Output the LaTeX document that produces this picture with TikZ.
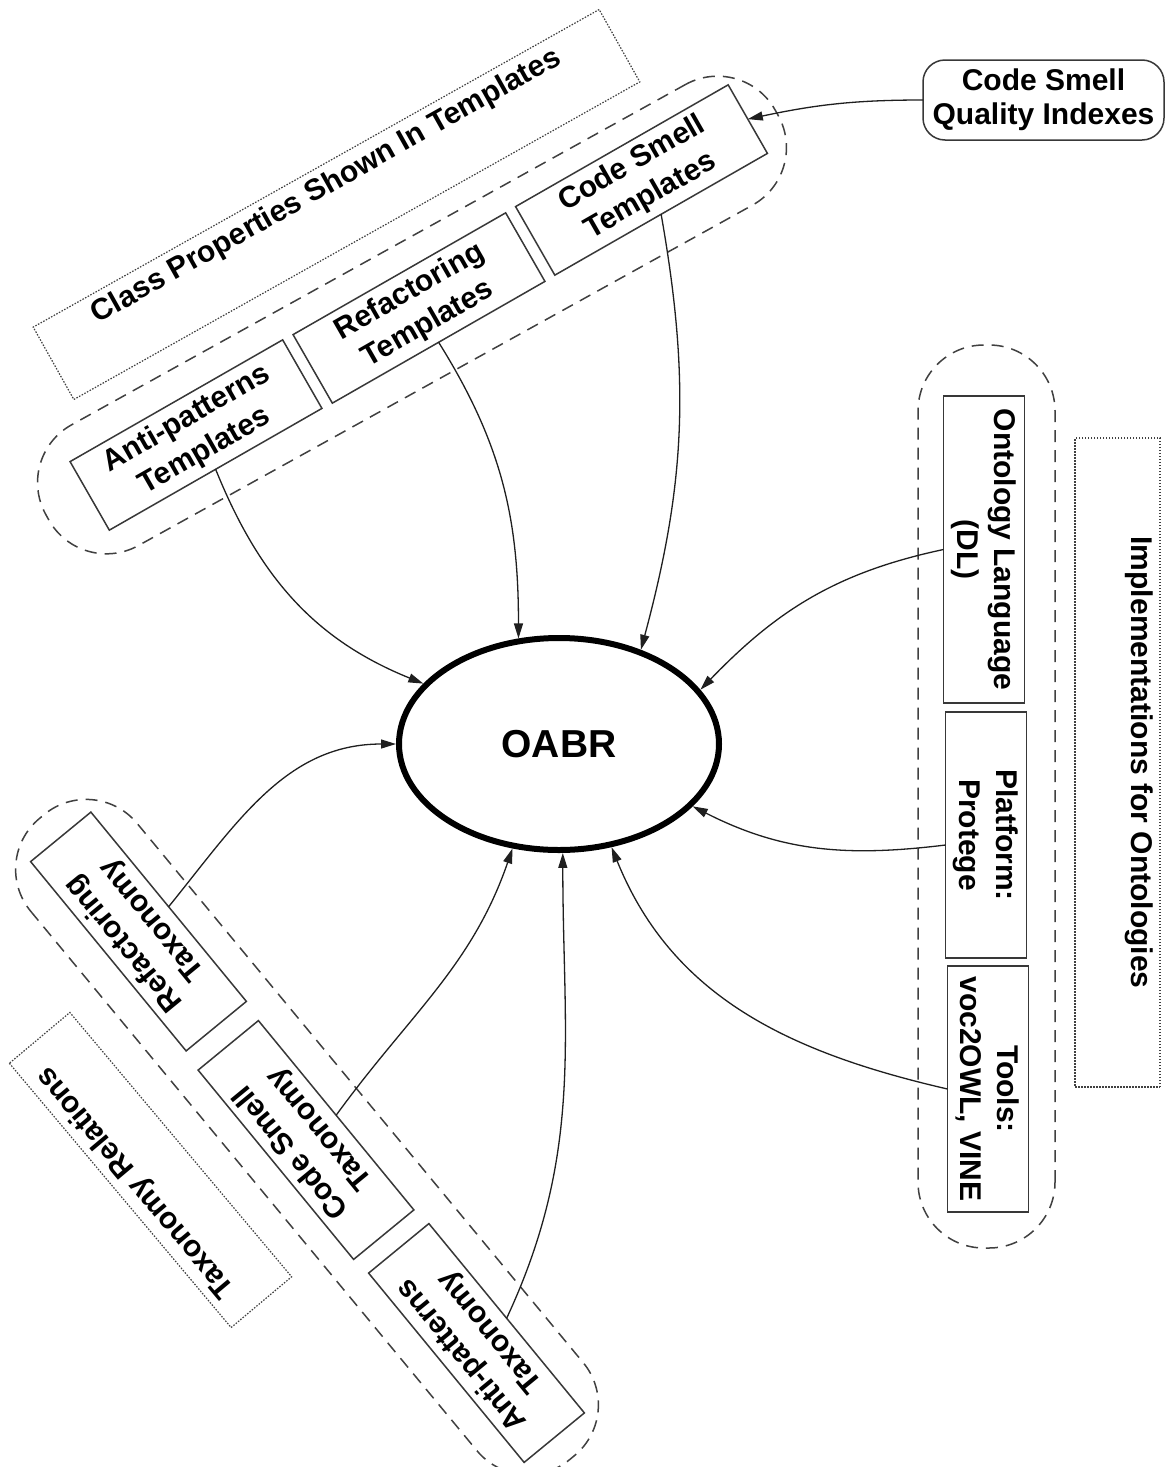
\documentclass[tikz,border=0pt]{standalone}
\usepackage{fontspec}
\setmainfont{Liberation Sans}
\usetikzlibrary{shapes.geometric,arrows.meta}
\definecolor{boxgray}{gray}{0.22}
\definecolor{dashgray}{gray}{0.25}
\definecolor{dotgray}{gray}{0.25}
\definecolor{linegray}{gray}{0.12}
\begin{document}
\begin{tikzpicture}[x=1pt,y=1pt,
  every node/.style={font=\fontsize{30}{37}\selectfont\bfseries, inner sep=0pt, outer sep=0pt},
  itembox/.style={draw=boxgray, line width=1.5pt, align=center, minimum height=80, fill=white},
  groupbox/.style={draw=dashgray, line width=1.5pt, dash pattern=on 12pt off 8pt, rounded corners=66pt, minimum height=138},
  labelbox/.style={draw=dotgray, line width=1.2pt, dash pattern=on 1.5pt off 1.5pt, minimum height=83},
  labeltext/.style={anchor=north, inner sep=7pt},
  conn/.style={draw=linegray, line width=1.3pt, -{Triangle[length=15pt,width=9pt]}},
]
\fill[white] (0,0) rectangle (1167,-1467);
\useasboundingbox (0,0) rectangle (1167,-1467);

% label boxes (dotted)
\node[labelbox, rotate=29.3, minimum width=649] (cp) at (336.5,-204.5) {};
\node[labeltext, rotate=29.3] (cpt) at (cp.north) {Class Properties Shown In Templates};

\node[labelbox, rotate=-90, minimum width=649, minimum height=85] (impl) at (1117.5,-762.5) {};
\node[labeltext, rotate=-90] (implt) at (impl.north) {Implementations for Ontologies};

\node[labelbox, rotate=130, minimum width=345, minimum height=79] (tr) at (150.5,-1170) {};
\node[labeltext, rotate=130] (trt) at (tr.north) {Taxonomy Relations};

% dashed groups
\node[groupbox, rotate=29, minimum width=834] (tg) at (412,-315) {};
\node[groupbox, rotate=129.6, minimum width=832] (xg) at (307,-1137) {};
\node[groupbox, rotate=-90, minimum width=903, minimum height=137] (og) at (986.5,-796.5) {};

% template boxes
\node[itembox, rotate=29.8, minimum width=245, minimum height=79] (at) at (196,-435) {Anti-patterns\\Templates};
\node[itembox, rotate=29.8, minimum width=245, minimum height=79] (rt) at (419,-308) {Refactoring\\Templates};
\node[itembox, rotate=29.8, minimum width=245, minimum height=79] (cst) at (641.5,-180) {Code Smell\\Templates};

% taxonomy boxes
\node[itembox, rotate=129.4, minimum width=245, minimum height=78] (rtx) at (138.5,-931.5) {Refactoring\\Taxonomy};
\node[itembox, rotate=129.4, minimum width=245, minimum height=78] (cstx) at (306,-1140) {Code Smell\\Taxonomy};
\node[itembox, rotate=129.4, minimum width=245, minimum height=78] (atx) at (476.5,-1343) {Anti-patterns\\Taxonomy};

% ontology boxes
\node[itembox, rotate=-90, minimum width=307, minimum height=81] (ol) at (984,-549.5) {Ontology Language\\(DL)};
\node[itembox, rotate=-90, minimum width=246, minimum height=81] (pf) at (986,-835) {Platform:\\Protege};
\node[itembox, rotate=-90, minimum width=246, minimum height=81] (tl) at (988,-1089) {Tools:\\voc2OWL, VINE};

% quality indexes
\node[draw=boxgray, line width=1.5pt, rounded corners=22pt, align=center, minimum width=241, minimum height=80, font=\fontsize{30}{34}\selectfont\bfseries] (qi) at (1043.5,-100) {Code Smell\\Quality Indexes};

% central ellipse
\node[ellipse, draw=black, line width=6pt, outer sep=3pt, minimum width=320, minimum height=212, font=\fontsize{39}{42}\selectfont\bfseries] (oabr) at (559,-744) {OABR};

% connectors
\draw[conn] (qi.west) to[out=180,in=12] (cst.east);
\draw[conn] (at.south) to[out=-68,in=158] (oabr.156);
\draw[conn] (rt.south) to[out=-58,in=90] (oabr.111);
\draw[conn] (cst.south) to[out=-80,in=75] (oabr.49);
\draw[conn] (ol.south) to[out=192,in=46] (oabr.21);
\draw[conn] ([xshift=0pt,yshift=-10pt]pf.south) to[out=187,in=-27] (oabr.-25);
\draw[conn] (tl.south) to[out=167,in=-68] (oabr.-63);
\draw[conn] (rtx.south) to[out=51,in=180] (oabr.180);
\draw[conn] (cstx.south) to[out=54,in=-109] (oabr.-114);
\draw[conn] (atx.south) to[out=65,in=-90] (oabr.-88);
\end{tikzpicture}
\end{document}
